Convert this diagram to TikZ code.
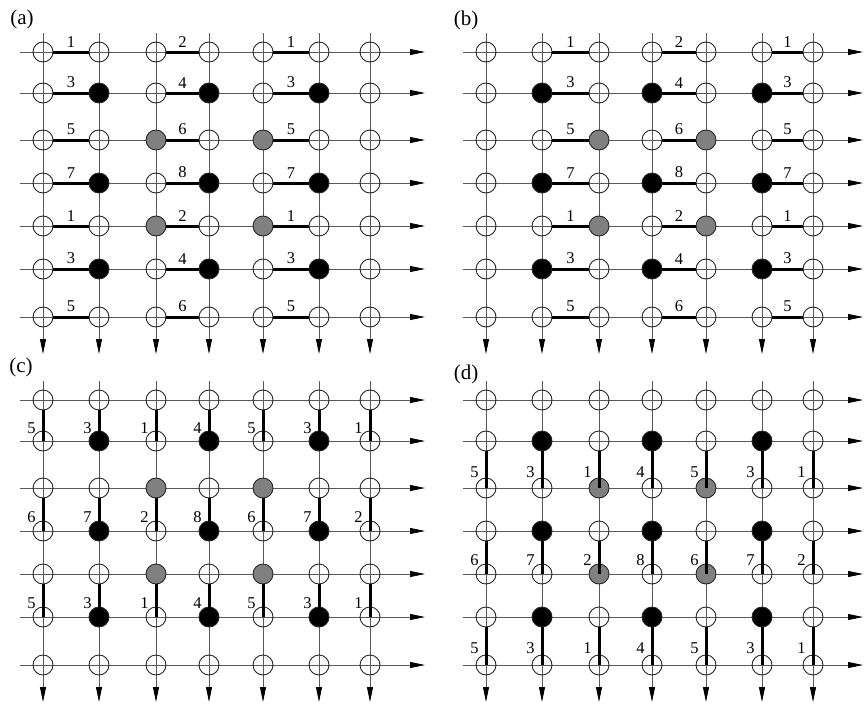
\documentclass[tikz,border=0pt]{standalone}
\usepackage{fontspec}
\setmainfont{Liberation Serif}
\usetikzlibrary{arrows.meta}

\begin{document}
\begin{tikzpicture}[x=1pt,y=-1pt,
  axis/.style={draw=black!65,line width=0.8pt,-{Triangle[length=15pt,width=6pt,color=black]}},
  site0/.style={circle,draw=black!85,line width=0.9pt,minimum size=20pt,inner sep=0pt},
  site1/.style={site0,fill=black},
  site2/.style={site0,fill=black!50},
  bond/.style={line width=3pt},
  num/.style={font=\fontsize{16.5}{18}\selectfont,inner sep=1pt},
  tag/.style={font=\fontsize{21}{23}\selectfont,inner sep=0pt}]
\useasboundingbox (0,0) rectangle (864,704);

% four lattices: a top left, b top right, c bottom left, d bottom right
\foreach \p/\dx/\dy/\xe in {a/0/0/425,b/443/0/420,c/0/348/425,d/443/348/420}{
\begin{scope}[shift={(\dx,\dy)}]
  \foreach \y [count=\r from 0] in {52,93,140,183,226,269,317}{
    \coordinate (\p-w\r) at (20,\y);
    \coordinate (\p-e\r) at (\xe,\y);
    \draw[axis] (\p-w\r) -- (\p-e\r);
  }
  \foreach \x [count=\c from 0] in {43,99,156,209,263,319,370}{
    \coordinate (\p-n\c) at (\x,33);
    \coordinate (\p-s\c) at (\x,354);
    \draw[axis] (\p-n\c) -- (\p-s\c);
  }
  \foreach \y [count=\r from 0] in {52,93,140,183,226,269,317}
    \foreach \x [count=\c from 0] in {43,99,156,209,263,319,370}{
      \pgfmathtruncatemacro\kind{(isodd(\r) && isodd(\c)) ? 1 : ((iseven(\r) && iseven(\c) && \r>1 && \r<5 && \c>1 && \c<5) ? 2 : 0)}
      \node[site\kind] (\p-\r-\c) at (\x,\y) {};
    }
\end{scope}
}

\node[tag] (tag-a) at (22,19) {(a)};
\node[tag] (tag-b) at (466,20) {(b)};
\node[tag] (tag-c) at (21,367) {(c)};
\node[tag] (tag-d) at (466,374) {(d)};

% horizontal bonds in (a) and (b)
\foreach \p/\o in {a/0,b/1}
  \foreach \r/\u/\v in {0/1/2,1/3/4,2/5/6,3/7/8,4/1/2,5/3/4,6/5/6}
    \foreach \c/\n in {0/\u,2/\v,4/\u}{
      \pgfmathtruncatemacro\lft{\c+\o}
      \pgfmathtruncatemacro\rgt{\c+\o+1}
      \draw[bond] (\p-\r-\lft) -- node[num,above=2.5pt] (\p-t-\r-\lft) {\n} (\p-\r-\rgt);
    }

% vertical bonds in (c) and (d)
\foreach \p/\o in {c/0,d/1}
  \foreach \c/\u/\v in {0/5/6,1/3/7,2/1/2,3/4/8,4/5/6,5/3/7,6/1/2}
    \foreach \r/\n in {0/\u,2/\v,4/\u}{
      \pgfmathtruncatemacro\upr{\r+\o}
      \pgfmathtruncatemacro\dnr{\r+\o+1}
      \draw[bond] (\p-\upr-\c) -- node[num,left=5pt,yshift=-2pt] (\p-t-\upr-\c) {\n} (\p-\dnr-\c.center);
    }
\end{tikzpicture}
\end{document}
